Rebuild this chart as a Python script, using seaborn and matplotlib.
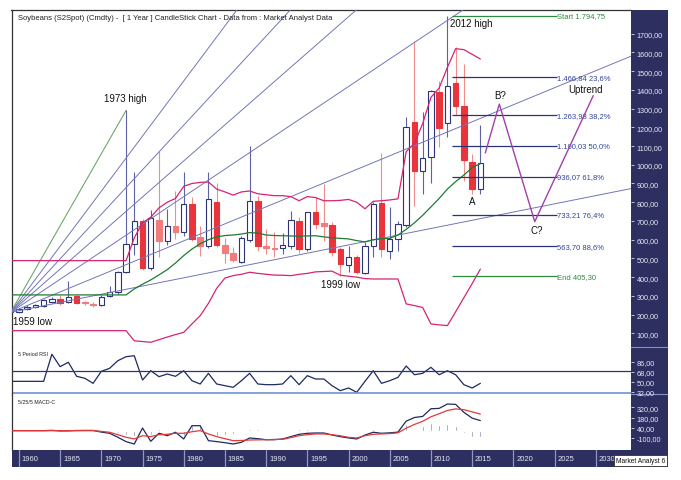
# Soybeans yearly candlestick chart with fib levels, fans, RSI and MACD

import numpy as np
import matplotlib
matplotlib.use("Agg")
import matplotlib.pyplot as plt
from matplotlib.ticker import FuncFormatter
import seaborn as sns

sns.set_theme(style="white")
plt.rcParams["font.family"] = ["Liberation Sans", "DejaVu Sans"]

# --- data --------------------------------------------------------------
years = list(range(1959, 2017))

opens = [215, 216, 228, 240, 246, 268, 284, 266, 298, 266,
         258, 250, 300, 318, 429, 577, 701, 447, 707, 595,
         675, 639, 790, 612, 565, 803, 572, 529, 482, 600,
         808, 568, 557, 554, 565, 701, 550, 749, 687, 678,
         548, 465, 506, 422, 565, 794, 541, 604, 678, 1230,
         968, 1040, 1390, 1223, 1437, 1312, 1017, 871]
highs = [225, 234, 250, 258, 285, 292, 305, 380, 302, 272,
         268, 302, 354, 432, 1290, 962, 712, 760, 1075, 764,
         860, 960, 826, 675, 963, 903, 610, 559, 620, 1099,
         834, 657, 640, 634, 755, 720, 750, 826, 897, 692,
         559, 565, 520, 586, 800, 1064, 773, 700, 1253, 1663,
         1280, 1400, 1450, 1794.75, 1630, 1540, 1060, 1210]
lows = [212, 210, 222, 234, 240, 262, 250, 262, 255, 252,
        242, 245, 295, 312, 420, 518, 440, 440, 506, 570,
        604, 621, 595, 514, 558, 559, 475, 479, 476, 590,
        540, 524, 510, 522, 550, 528, 540, 657, 595, 514,
        405.3, 426, 415, 415, 510, 506, 497, 540, 670, 780,
        844, 900, 1093, 1147, 1265, 915, 845, 845]
closes = [220, 228, 242, 250, 279, 282, 262, 292, 264, 261,
          251, 292, 320, 426, 577, 698, 447, 714, 595, 675,
          643, 790, 604, 565, 817, 572, 529, 491, 609, 805,
          568, 556, 552, 572, 707, 550, 746, 684, 675, 536,
          470, 510, 426, 565, 790, 550, 604, 684, 1200, 968,
          1035, 1396, 1195, 1419, 1312, 1023, 871, 1008]

# bollinger style bands (flat until the first computed value)
band_upper = [488] * 15 + [
    610, 690, 720, 770, 800, 820, 885, 900, 906, 908,
    870, 855, 838, 855, 860, 845, 840, 835, 835, 830,
    808, 830, 825, 808, 808, 810, 815, 800, 765, 805,
    808, 812, 818, 1070, 1115, 1220, 1360, 1410, 1520, 1620,
    1615, 1590, 1565]
band_mid = [305] * 15 + [
    337, 362, 385, 412, 440, 475, 515, 550, 578, 600,
    615, 622, 625, 630, 638, 635, 625, 622, 621, 620,
    618, 620, 621, 615, 610, 607, 604, 595, 588, 600,
    605, 607, 625, 655, 690, 730, 775, 820, 870, 910,
    945, 985, 1006]
band_lower = [114] * 15 + [
    60, 56, 52, 66, 80, 93, 105, 150, 194, 260,
    340, 395, 408, 415, 426, 420, 415, 411, 410, 408,
    415, 420, 428, 430, 432, 410, 405, 400, 392, 390,
    390, 390, 390, 257, 248, 238, 150, 145, 141, 215,
    290, 365, 443]

rsi = [51.2] * 5 + [
    100, 77.6, 85.5, 60.3, 56.7, 47.6, 69.2, 74.6, 88.3, 95.5,
    97.3, 53.6, 70.3, 59.6, 64.4, 60.2, 70.3, 52.3, 46.4, 65.6,
    46.4, 43.4, 40.4, 52.3, 65.6, 46.4, 45.2, 45.2, 46.4, 61.4,
    45.2, 61.4, 55.4, 55.4, 43.4, 34.4, 39.2, 31.5, 51.2, 70.3,
    47.6, 52.3, 58.4, 78.8, 63.1, 65.6, 76.4, 63.1, 70.3, 63.1,
    45.2, 39.2, 47.6]

macd = [0] * 5 + [
    4, -4, -3, 2, 3, 3, -20, -36, -90, -150,
    -183, 36, -146, -36, -69, -22, -114, 68, 68, -137,
    -150, -165, -183, -160, -100, -110, -124, -124, -114, -82,
    -50, -36, -32, -32, -60, -82, -100, -114, -60, -22,
    -36, -30, -20, 130, 180, 195, 300, 305, 365, 360,
    251, 172, 138]
macd_signal = [0] * 11 + [
    -10, -22, -55, -90, -114, -69, -82, -55, -50, -36,
    -36, -15, 0, -45, -82, -110, -137, -135, -128, -126,
    -124, -120, -119, -95, -69, -55, -45, -45, -55, -70,
    -91, -100, -69, -50, -45, -40, -30, 34, 85, 128,
    190, 232, 276, 298, 287, 258, 226]

# fibonacci retracement from the 2012 high to the 1999 low
fib_start = 1794.75
fib_end = 405.30
fib_ratios = [0.236, 0.382, 0.5, 0.618, 0.764, 0.886]

# fan from the 1959 low through the 1973 high
fan_origin = (1959, 212)
fan_high = (1973, 1290)
fan_ratios = [0.764, 0.618, 0.5, 0.382, 0.236, 0.114]

# projected A-B-C path
path_years = [2016.6, 2018.3, 2022.6, 2029.7]
path_prices = [1063, 1324, 696, 1369]

rsi_ticks = [32, 50, 68, 86]
macd_ticks = [-100, 40, 180, 320]
price_ticks = list(range(100, 1800, 100))
year_ticks = list(range(1960, 2035, 5))

pale_years = [1968, 1969, 1977, 1979, 1982, 1985, 1986, 1990, 1991, 1997]

# --- colours & layout ----------------------------------------------------
NAVY = "#2d2f60"
LINE_NAVY = "#2b3575"
RED = "#e8343a"
PALE_RED = "#f07c7c"
MAGENTA = "#d42474"
GREEN = "#1f7a35"
FAN = "#7276b8"

W, H = 681, 481
PX_YEAR = 8.24
X_LEFT = 1959.1
X_RIGHT = X_LEFT + (631 - 11.5) / PX_YEAR


def px_box(x0, y0, x1, y1):
    return [x0 / W, 1 - y1 / H, (x1 - x0) / W, (y1 - y0) / H]


def comma_fmt(v, pos=None):
    return f"{v:.2f}".replace(".", ",")


def euro(v):
    s = f"{v:,.2f}"
    return s.replace(",", "X").replace(".", ",").replace("X", ".")


fig = plt.figure(figsize=(W / 100, H / 100), dpi=100)
fig.patch.set_facecolor("white")

# navy scale column on the right
side = fig.add_axes(px_box(631, 11, 668, 451))
side.set_facecolor(NAVY)
side.set_xticks([])
side.set_yticks([])
for s in side.spines.values():
    s.set_visible(False)
side.set_ylim(0, 440)
side.axhline(440 - (348 - 11), color="#8890c4", lw=0.8)
side.axhline(440 - (395 - 11), color="#8890c4", lw=0.8)

ax = fig.add_axes(px_box(11.5, 11, 631, 348))
ax_rsi = fig.add_axes(px_box(11.5, 348, 631, 395))
ax_macd = fig.add_axes(px_box(11.5, 395, 631, 451))

# --- main price panel ----------------------------------------------------
o = np.array(opens, dtype=float)
c = np.array(closes, dtype=float)
up = c >= o
body_bottom = np.minimum(o, c)
body_height = np.maximum(np.abs(c - o), 3)
face = []
edge = []
wick = []
for yr, is_up in zip(years, up):
    if is_up:
        face.append("white")
        edge.append(LINE_NAVY)
        wick.append("#5c62a4")
    else:
        col = PALE_RED if yr in pale_years else RED
        face.append(col)
        edge.append(col)
        wick.append("#f08c8c")

ax.vlines(years, lows, highs, colors=wick, lw=0.8, zorder=2)
ax.bar(years, body_height, bottom=body_bottom, width=0.66, color=face,
       edgecolor=edge, linewidth=0.8, zorder=2.5)

# fan lines
ax.plot([fan_origin[0], fan_high[0]], [fan_origin[1], fan_high[1]],
        color="#5a9e5a", lw=0.7, zorder=3)
for r in fan_ratios:
    target = fan_origin[1] + r * (fan_high[1] - fan_origin[1])
    ax.axline(fan_origin, (fan_high[0], target), color=FAN, lw=0.7, zorder=3)

# bands
sns.lineplot(x=years, y=band_upper, ax=ax, color=MAGENTA, linewidth=0.9, zorder=3)
sns.lineplot(x=years, y=band_lower, ax=ax, color=MAGENTA, linewidth=0.9, zorder=3)
sns.lineplot(x=years, y=band_mid, ax=ax, color=GREEN, linewidth=0.9, zorder=3)

# fibonacci levels
fib_x0, fib_x1 = 2012.5, 2025.27
ax.hlines(fib_start, fib_x0, fib_x1, color="#2f8a3f", lw=0.9, zorder=3)
ax.text(fib_x1, fib_start, f"Start {euro(fib_start)}", color="#2f8a3f",
        fontsize=5.5, va="center", ha="left")
for r in fib_ratios:
    level = round(fib_start - r * (fib_start - fib_end), 2)
    pct = f"{r * 100:.1f}%".replace(".", ",")
    ax.hlines(level, fib_x0, fib_x1, color=LINE_NAVY, lw=0.9, zorder=3)
    ax.text(fib_x1, level, f"{euro(level)} {pct}", color="#34449a",
            fontsize=5.5, va="center", ha="left")
ax.hlines(fib_end, fib_x0, fib_x1, color="#2f8a3f", lw=0.9, zorder=3)
ax.text(fib_x1, fib_end, f"End {euro(fib_end)}", color="#2f8a3f",
        fontsize=5.5, va="center", ha="left")

# projection
sns.lineplot(x=path_years, y=path_prices, ax=ax, color="#a040aa",
             linewidth=1.0, sort=False, zorder=3)

# labels
label_kw = dict(fontsize=7, color="#111111", va="center")
ax.text(1970.33, 1357, "1973 high", ha="left", **label_kw)
ax.text(2012.32, 1757, "2012 high", ha="left", **label_kw)
ax.text(2017.66, 1373, "B?", ha="left", **label_kw)
ax.text(2026.64, 1405, "Uptrend", ha="left", **label_kw)
ax.text(2015.05, 806, "A", ha="center", **label_kw)
ax.text(2022.03, 649, "C?", ha="left", **label_kw)
ax.text(1959.28, 163, "1959 low", ha="left", **label_kw)
ax.text(1996.71, 363, "1999 low", ha="left", **label_kw)

ax.set_ylim(26.8, 1826.6)
ax.set_yticks(price_ticks)

# --- RSI panel -----------------------------------------------------------
sns.lineplot(x=years, y=rsi, ax=ax_rsi, color="#1f2a5e", linewidth=0.9)
ax_rsi.axhline(70, color=LINE_NAVY, lw=0.9)
ax_rsi.axhline(30, color="#7090d0", lw=1.2)
ax_rsi.set_ylim(28.4, 113)
ax_rsi.set_yticks(rsi_ticks)
ax_rsi.text(0.0105, 0.86, "5 Period RSI", transform=ax_rsi.transAxes,
            fontsize=3.8, color="#222222", va="center")

# --- MACD panel ----------------------------------------------------------
hist = np.array(macd) - np.array(macd_signal)
ax_macd.bar(years, hist, width=0.22, color="#7a80a8", zorder=2)
sns.lineplot(x=years, y=macd, ax=ax_macd, color="#1f2a5e", linewidth=0.9, zorder=3)
sns.lineplot(x=years, y=macd_signal, ax=ax_macd, color="#e03a3a", linewidth=0.9, zorder=3)
ax_macd.set_ylim(-265, 502)
ax_macd.set_yticks(macd_ticks)
ax_macd.text(0.0105, 0.86, "5/25/5 MACD-C", transform=ax_macd.transAxes,
             fontsize=3.8, color="#222222", va="center")

for a in (ax, ax_rsi, ax_macd):
    a.set_facecolor("white")
    a.set_xlim(X_LEFT, X_RIGHT)
    a.set_xticks([])
    a.set_xlabel("")
    a.set_ylabel("")
    a.yaxis.tick_right()
    a.yaxis.set_major_formatter(FuncFormatter(comma_fmt))
    a.tick_params(axis="y", direction="out", length=2.5, width=0.6,
                  color="#d8dbef", labelcolor="#e8eaf6", labelsize=5.2, pad=1.5)
    a.grid(False)
    for name in ("right", "bottom"):
        a.spines[name].set_visible(False)
    a.spines["left"].set_color("#333333")
    a.spines["left"].set_linewidth(0.9)
    a.spines["top"].set_visible(a is ax)
    a.spines["top"].set_color("#333333")
    a.spines["top"].set_linewidth(0.9)

# --- year bar ------------------------------------------------------------
xbar = fig.add_axes(px_box(11.5, 451, 668, 468))
xbar.set_facecolor(NAVY)
xbar.set_xlim(X_LEFT, X_LEFT + (668 - 11.5) / PX_YEAR)
xbar.set_ylim(0, 1)
xbar.set_xticks([])
xbar.set_yticks([])
for s in xbar.spines.values():
    s.set_visible(False)
for yr in year_ticks:
    xbar.axvline(yr, color="#9096c4", lw=0.9)
    xbar.text(yr + 0.35, 0.5, str(yr), color="#e4e6f4", fontsize=5.5,
              va="center", ha="left")

fig.text(18 / W, 1 - 19 / H,
         "Soybeans (S2Spot) (Cmdty) -  [ 1 Year ] CandleStick Chart - Data from : Market Analyst Data",
         fontsize=5.5, color="#222222", va="center", ha="left")
fig.text(615.5 / W, 1 - 461.5 / H, "Market Analyst 6", fontsize=4.8,
         color="#111111", va="center", ha="left",
         bbox=dict(boxstyle="square,pad=0.3", fc="white", ec="#333333", lw=0.6))

fig.savefig("out.png", dpi=100)
print("saved out.png")
